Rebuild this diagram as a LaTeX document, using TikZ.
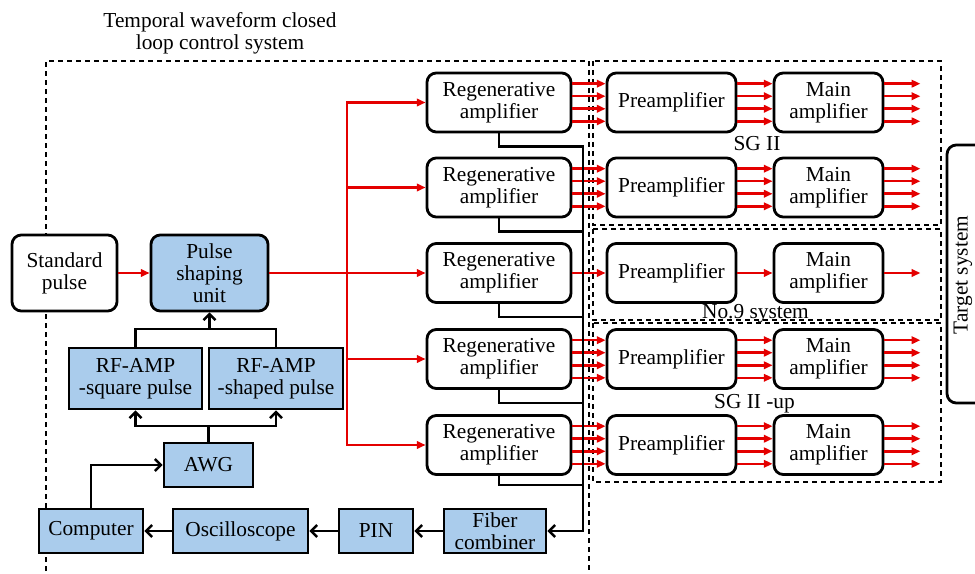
\documentclass[tikz,border=0pt]{standalone}
\usepackage{fontspec}
\setmainfont{Liberation Serif}
\usetikzlibrary{arrows.meta}
\definecolor{lblue}{RGB}{170,204,236}
\definecolor{lred}{RGB}{228,0,0}
\begin{document}
\begin{tikzpicture}[x=0.75pt,y=-0.75pt,
  font=\fontsize{16}{16.5}\selectfont,
  box/.style={draw, line width=2.1pt, align=center, inner sep=0pt},
  rbox/.style={box, rounded corners=7pt, fill=white},
  bbox/.style={box, fill=lblue},
  redline/.style={draw=lred, line width=1.9pt},
  redarrow/.style={redline, -{Triangle[length=6.5pt,width=5.5pt]}},
  bline/.style={draw=black, line width=1.8pt},
  barrow/.style={bline, -{Straight Barb[length=4.5pt,width=9pt]}},
  dsh/.style={draw, line width=1.1pt, dash pattern=on 3.75pt off 3pt}
]
\useasboundingbox (0,0) rectangle (975,574);

% dashed groups
\draw[dsh] (46,580) -- (46,61) -- (589,61) -- (589,580);
\draw[dsh] (593,61) rectangle (941,225);
\draw[dsh] (593,229) rectangle (941,320);
\draw[dsh] (593,323) rectangle (941,482);

% title
\node[align=center] (title) at (220,33) {Temporal waveform closed\\loop control system};

% left part
\node[rbox, minimum width=78.75pt, minimum height=57pt] (std) at (64.5,273) {Standard\\pulse};
\node[bbox, rounded corners=7pt, minimum width=87.75pt, minimum height=57pt] (psu) at (209.5,273) {Pulse\\shaping\\unit};
\node[bbox, minimum width=99.75pt, minimum height=45.75pt] (rfsq) at (135.5,378.5) {RF-AMP\\-square pulse};
\node[bbox, minimum width=100.5pt, minimum height=45.75pt] (rfsh) at (276,378.5) {RF-AMP\\-shaped pulse};
\node[bbox, minimum width=66.75pt, minimum height=33pt] (awg) at (208.5,465) {AWG};
\node[bbox, minimum width=78pt, minimum height=33pt] (comp) at (91,531) {Computer};
\node[bbox, minimum width=101.25pt, minimum height=33pt] (osc) at (240.5,531) {Oscilloscope};
\node[bbox, minimum width=55.5pt, minimum height=33pt] (pin) at (376,531) {PIN};
\node[bbox, minimum width=76.5pt, minimum height=33pt] (fib) at (495,531) {Fiber\\combiner};

% amplifier chains
\foreach \i/\y in {1/102.5,2/187.5,3/273,4/359,5/445} {
  \node[rbox, minimum width=108pt, minimum height=44.25pt] (r\i) at (499,\y) {Regenerative\\amplifier};
  \node[rbox, minimum width=96.75pt, minimum height=44.25pt] (p\i) at (671.5,\y) {Preamplifier};
  \node[rbox, minimum width=81.75pt, minimum height=44.25pt] (m\i) at (828.5,\y) {Main\\amplifier};
}

% labels
\node[anchor=base] (sg2) at (757,151) {SG II};
\node[anchor=base] (no9) at (755.5,318) {No.9 system};
\node[anchor=base] (sgup) at (754.5,408) {SG II -up};

% target system
\draw[line width=2.1pt, rounded corners=7pt] (947,145) rectangle (1005,403);
\node[rotate=90] (tgt) at (963,275) {Target system};

% red beam paths
\draw[redarrow] (std) -- (psu);
\coordinate (tk) at (347,273);
\draw[redline] (psu.east) -- (tk);
\foreach \i in {1,...,5} \draw[redarrow] (tk) |- (r\i.west);
\foreach \i in {1,2,4,5} {
  \foreach \o in {14.1,4.7,-4.7,-14.1} {
    \draw[redarrow] ([yshift=\o pt]r\i.east) -- ([yshift=\o pt]p\i.west);
    \draw[redarrow] ([yshift=\o pt]p\i.east) -- ([yshift=\o pt]m\i.west);
    \draw[redarrow] ([yshift=\o pt]m\i.east) -- ++(36,0);
  }
}
\draw[redarrow] (r3) -- (p3);
\draw[redarrow] (p3) -- (m3);
\draw[redarrow] (m3.east) -- ++(36,0);

% feedback bus
\coordinate (bus) at (583,531);
\foreach \i in {1,...,4} \draw[bline] (r\i.south) -- ++(0,13) -| (bus);
\draw[barrow] (r5.south) -- ++(0,9) -| (bus) -- (fib.east);

% control loop
\draw[barrow] (fib) -- (pin);
\draw[barrow] (pin) -- (osc);
\draw[barrow] (osc) -- (comp);
\draw[barrow] (comp.north) |- (awg.west);
\coordinate (sp) at (208.5,426);
\draw[bline] (awg.north) -- (sp);
\draw[barrow] (sp) -| (rfsq.south);
\draw[barrow] (sp) -| (rfsh.south);
\coordinate (jn) at (209.5,329);
\draw[bline] (rfsq.north) |- (jn) -| (rfsh.north);
\draw[barrow] (jn) -- (psu.south);
\end{tikzpicture}
\end{document}
